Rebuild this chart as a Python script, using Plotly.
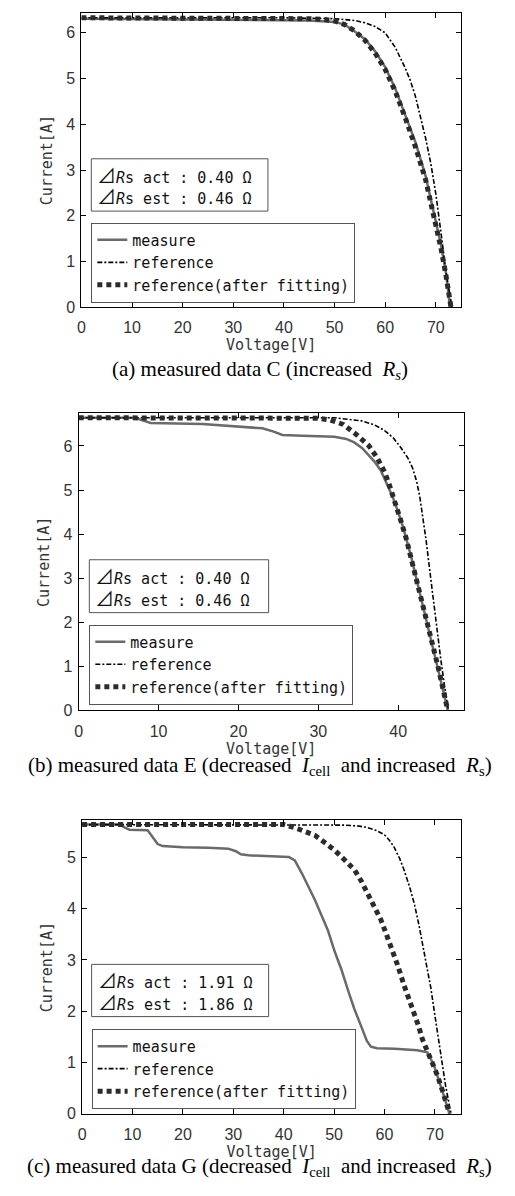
import plotly.graph_objects as go

W, H = 515, 1196

# ---------------- data ----------------
# (a) measured data C
va_meas = [0, 10, 20, 30, 40, 45, 50, 52, 54, 56, 58, 60, 62, 64, 66, 68, 70, 71, 72, 72.8]
ia_meas = [6.31, 6.30, 6.30, 6.29, 6.28, 6.27, 6.24, 6.18, 6.03, 5.86, 5.6, 5.25, 4.78, 4.21, 3.6, 2.86, 1.9, 1.37, 0.75, 0.0]
va_ref = [0, 20, 40, 50, 54, 56, 58, 60, 62, 64, 65, 66, 67, 68, 69, 70, 71, 72, 73.2]
ia_ref = [6.33, 6.33, 6.33, 6.31, 6.27, 6.22, 6.14, 6.0, 5.68, 5.22, 4.95, 4.6, 4.15, 3.69, 3.15, 2.48, 1.65, 0.78, 0.0]
va_fit = [0, 10, 20, 30, 40, 45, 48, 50, 52, 54, 56, 58, 60, 62, 64, 66, 68, 70, 71, 72, 73.0]
ia_fit = [6.33, 6.33, 6.33, 6.33, 6.32, 6.31, 6.29, 6.26, 6.18, 6.04, 5.84, 5.56, 5.2, 4.72, 4.13, 3.5, 2.78, 1.85, 1.3, 0.7, 0.0]

# (b) measured data E
vb_meas = [0, 7.0, 8.0, 9.0, 15.5, 18, 21, 23, 24.5, 25.5, 28, 32, 33.5, 34.5, 35.5, 36.2, 37, 37.8, 38.5, 39.3, 40, 40.7,
           41.6, 42.5, 43.5, 44.9, 46.2]
ib_meas = [6.64, 6.64, 6.58, 6.52, 6.50, 6.47, 6.43, 6.40, 6.32, 6.25, 6.23, 6.21, 6.16, 6.08, 5.95, 5.82, 5.65, 5.45, 5.17, 4.85, 4.5, 4.1,
           3.5, 2.8, 2.05, 1.0, 0.0]
vb_ref = [0, 20, 32, 35.4, 37, 38.3, 39.4, 40.3, 41.2, 41.8, 42.3, 42.7, 43.1, 43.5, 43.9, 44.3, 44.8, 45.3, 45.8, 46.3]
ib_ref = [6.64, 6.64, 6.64, 6.57, 6.48, 6.35, 6.18, 5.97, 5.73, 5.5, 5.2, 4.85, 4.4, 3.85, 3.25, 2.65, 1.9, 1.2, 0.55, 0.0]
vb_fit = [0, 20, 30, 31.5, 33.1, 34.7, 36.3, 37.3, 38.3, 38.9, 39.7, 40.3, 41.0, 41.7, 42.6, 43.6, 45.0, 46.2]
ib_fit = [6.64, 6.64, 6.63, 6.59, 6.49, 6.27, 6.01, 5.75, 5.41, 5.11, 4.7, 4.32, 3.9, 3.4, 2.75, 2.0, 0.98, 0.0]

# (c) measured data G
vc_meas = [0, 7.5, 8.5, 9.4, 13, 14, 15, 16, 20, 25, 29, 30.5, 31.5, 33, 38, 41, 42.2, 43.6, 46.2, 48.8, 50.1, 51.5,
           52.8, 54, 55.4, 56.5, 57.3, 58.5, 62, 66.5, 68.5, 69.8, 71.1, 72.9]
ic_meas = [5.64, 5.64, 5.58, 5.54, 5.53, 5.40, 5.26, 5.22, 5.20, 5.19, 5.17, 5.12, 5.06, 5.04, 5.02, 5.01, 4.94, 4.69, 4.17, 3.57, 3.17, 2.8,
           2.4, 2.05, 1.7, 1.42, 1.31, 1.28, 1.27, 1.24, 1.2, 0.95, 0.56, 0.0]
vc_ref = [0, 45, 52, 55, 56.7, 58.5, 60, 61, 61.9, 63, 63.9, 65, 65.9, 66.8, 67.5, 68.2, 69.2, 70.1, 71.1, 72.1, 73.2]
ic_ref = [5.64, 5.64, 5.63, 5.61, 5.58, 5.52, 5.44, 5.33, 5.2, 4.98, 4.75, 4.42, 4.1, 3.7, 3.35, 3.0, 2.45, 1.85, 1.2, 0.56, 0.0]
vc_fit = [0, 40, 42.2, 44, 46.2, 48, 50.1, 52, 54.1, 55.5, 56.7, 58, 59.3, 60.3, 61.3, 62.6, 63.9, 65, 65.9, 66.8, 67.5,
          68.2, 68.8, 69.6, 70.5, 71.5, 72.9]
ic_fit = [5.64, 5.64, 5.58, 5.52, 5.43, 5.3, 5.14, 4.96, 4.75, 4.52, 4.3, 4.05, 3.78, 3.52, 3.27, 2.9, 2.5, 2.2, 1.98, 1.7, 1.46,
          1.3, 1.2, 1.0, 0.75, 0.45, 0.0]

series_names = ["measure", "reference", "reference(after fitting)"]
x_ticks = [[0, 10, 20, 30, 40, 50, 60, 70], [0, 10, 20, 30, 40], [0, 10, 20, 30, 40, 50, 60, 70]]
y_ticks = [[0, 1, 2, 3, 4, 5, 6], [0, 1, 2, 3, 4, 5, 6], [0, 1, 2, 3, 4, 5]]
x_ranges = [[0, 75], [0, 48.2], [0, 75.2]]
y_ranges = [[0, 6.43], [0, 6.74], [0, 5.72]]
box_texts = [["0.40", "0.46"], ["0.40", "0.46"], ["1.91", "1.86"]]
captions = [
    "(a) measured data C (increased\u00a0\u00a0<i>R<sub>s</sub></i>)",
    "(b) measured data E (decreased\u00a0\u00a0<i>I</i><sub>cell</sub>\u00a0\u00a0and increased\u00a0\u00a0<i>R</i><sub>s</sub>)",
    "(c) measured data G (decreased\u00a0\u00a0<i>I</i><sub>cell</sub>\u00a0\u00a0and increased\u00a0\u00a0<i>R</i><sub>s</sub>)",
]

panels = [
    (va_meas, ia_meas, va_ref, ia_ref, va_fit, ia_fit),
    (vb_meas, ib_meas, vb_ref, ib_ref, vb_fit, ib_fit),
    (vc_meas, ic_meas, vc_ref, ic_ref, vc_fit, ic_fit),
]

# ---------------- layout geometry (pixels) ----------------
plot_px = [  # left, right, top, bottom
    (78, 460.7, 13.3, 309.5),
    (75.3, 463.3, 416.5, 715.7),
    (78.7, 460.7, 826.7, 1122.3),
]
ann_box_px = [(88, 266, 160, 212.7), (86, 266.7, 564, 617.3), (88.3, 266.7, 971.7, 1024.3)]
leg_box_px = [(88, 224.3), (86, 629.3), (88.3, 1036.7)]
caption_y = [373, 772, 1176]


def px(x):
    return x / W


def py(y):
    return 1 - y / H


fig = go.Figure()
tick_font = dict(family="Liberation Sans, Arial, sans-serif", size=16, color="#333333")
mono_font = "DejaVu Sans Mono, Liberation Mono, monospace"
tri = '<span style="font-family:Noto Sans CJK JP;font-size:19px">\u22bf</span>'

for i, (vm, im, vr, ir, vf, iff) in enumerate(panels):
    n = "" if i == 0 else str(i + 1)
    leg = "legend" + n
    xa, ya = "x" + n, "y" + n
    fig.add_trace(go.Scatter(x=vm, y=im, mode="lines", name=series_names[0], legend=leg,
                             line=dict(color="#6a6a6a", width=2.5), xaxis=xa, yaxis=ya))
    fig.add_trace(go.Scatter(x=vr, y=ir, mode="lines", name=series_names[1], legend=leg,
                             line=dict(color="#000000", width=1.6, dash="5px,2px,2px,2px"), xaxis=xa, yaxis=ya))
    fig.add_trace(go.Scatter(x=vf, y=iff, mode="lines", name=series_names[2], legend=leg,
                             line=dict(color="#2b2b2b", width=5, dash="5px,4px"), xaxis=xa, yaxis=ya))

    l, r, t, b = plot_px[i]
    axis_common = dict(showline=True, linecolor="black", linewidth=1, mirror="ticks", ticks="inside",
                       ticklen=5, tickcolor="black", showgrid=False, zeroline=False, tickfont=tick_font)
    fig.update_layout(**{
        "xaxis" + n: dict(domain=[px(l), px(r)], range=x_ranges[i], tickvals=x_ticks[i], anchor=ya,
                          ticklabelstandoff=6,
                          title=dict(text="Voltage[V]", font=dict(family=mono_font, size=15, color="#333333"),
                                     standoff=3), **axis_common),
        "yaxis" + n: dict(domain=[py(b), py(t)], range=y_ranges[i], tickvals=y_ticks[i], anchor=xa,
                          ticklabelstandoff=2,
                          title=dict(text="Current[A]", font=dict(family=mono_font, size=15, color="#333333"),
                                     standoff=10), **axis_common),
        leg: dict(x=px(leg_box_px[i][0]), y=py(leg_box_px[i][1]), xanchor="left", yanchor="top",
                  bgcolor="white", bordercolor="#555555", borderwidth=1,
                  font=dict(family=mono_font, size=15, color="#111111"), tracegroupgap=0),
    })

    # info box
    bl, br, bt, bb = ann_box_px[i]
    fig.add_shape(type="rect", xref="paper", yref="paper", x0=px(bl), x1=px(br), y0=py(bb), y1=py(bt),
                  line=dict(color="#555555", width=1), fillcolor="white", layer="above")
    act, est = box_texts[i]
    mid = (bt + bb) / 2
    for k, (lab, val) in enumerate([("act", act), ("est", est)]):
        fig.add_annotation(xref="paper", yref="paper", x=px(bl + 4), y=py(mid - 10.8 + 21.7 * k),
                           xanchor="left", yanchor="middle", showarrow=False,
                           text=f"{tri}<i>R</i>s {lab} : {val}\u2009\u03a9",
                           font=dict(family=mono_font, size=15, color="#111111"))

    # caption
    fig.add_annotation(xref="paper", yref="paper", x=0.5, y=py(caption_y[i]), xanchor="center", yanchor="middle",
                       showarrow=False, text=captions[i],
                       font=dict(family="Liberation Serif, Times New Roman, serif", size=21, color="black"))

fig.update_layout(width=W, height=H, margin=dict(l=0, r=0, t=0, b=0), paper_bgcolor="white",
                  plot_bgcolor="white", showlegend=True)

fig.write_html("out.html")
